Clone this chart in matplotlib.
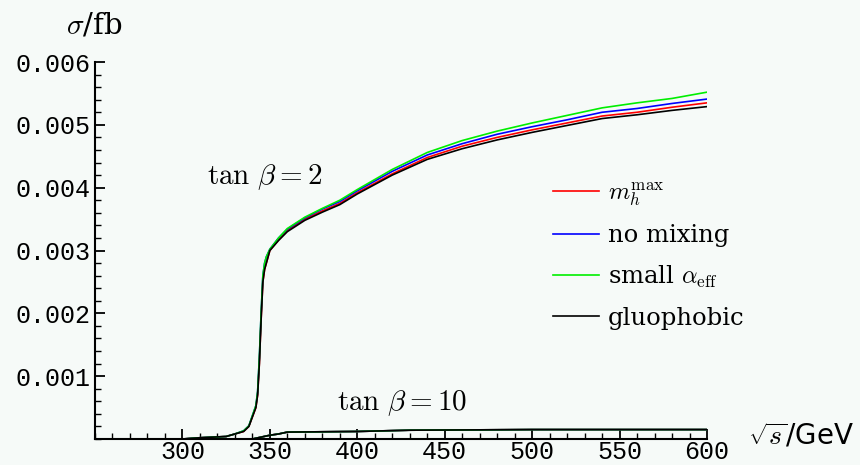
import numpy as np
import matplotlib.pyplot as plt
from matplotlib.ticker import MultipleLocator, FixedLocator

# sqrt(s) grid in GeV
sqrt_s = [250, 300, 310, 325, 330, 335, 338, 340, 342, 343, 344, 345, 346, 347, 348,
          350, 355, 360, 370, 380, 390, 400, 420, 440, 460, 480, 500, 520, 540, 560, 580, 600]

# tan(beta) = 2 cross sections in fb
sig_mhmax = [0, 0, 0.00002, 0.00004, 0.00008, 0.00012, 0.0002, 0.00035, 0.0005, 0.0007,
             0.0012, 0.0019, 0.0025, 0.0027, 0.0028, 0.0030, 0.00317, 0.00332, 0.0035,
             0.00363, 0.00375, 0.00392, 0.00422, 0.00448, 0.00466, 0.0048, 0.00492,
             0.00503, 0.00514, 0.0052, 0.00528, 0.00535]
sig_nomix = [0, 0, 0.00002, 0.00004, 0.00008, 0.00013, 0.00021, 0.00037, 0.00053, 0.00075,
             0.0013, 0.002, 0.0026, 0.0028, 0.0029, 0.00302, 0.0032, 0.00334, 0.00352,
             0.00366, 0.00378, 0.00395, 0.00426, 0.00452, 0.0047, 0.00485, 0.00497,
             0.00508, 0.0052, 0.00526, 0.00534, 0.00541]
sig_small = [0, 0, 0.00002, 0.00004, 0.00008, 0.00013, 0.00021, 0.00037, 0.00053, 0.00075,
             0.0013, 0.002, 0.0026, 0.0028, 0.0029, 0.00302, 0.0032, 0.00335, 0.00353,
             0.00367, 0.0038, 0.00397, 0.00429, 0.00456, 0.00475, 0.0049, 0.00503,
             0.00515, 0.00527, 0.00535, 0.00542, 0.00552]
sig_gluo = [0, 0, 0.00002, 0.00004, 0.00008, 0.00012, 0.0002, 0.00035, 0.0005, 0.0007,
            0.0012, 0.0019, 0.0025, 0.0027, 0.0028, 0.0030, 0.00316, 0.0033, 0.00348,
            0.00361, 0.00373, 0.0039, 0.0042, 0.00445, 0.00462, 0.00476, 0.00488,
            0.00499, 0.0051, 0.00516, 0.00523, 0.00529]

# tan(beta) = 10
sqrt_s10 = [250, 340, 345, 350, 355, 360, 400, 430, 500, 600]
sig_tb10 = [0, 0, 0.00003, 0.00006, 0.00008, 0.00011, 0.00012, 0.00014, 0.00015, 0.00015]

series = [("red", sig_mhmax, r"$m_h^{\rm max}$"),
          ("blue", sig_nomix, "no mixing"),
          ("#00ee00", sig_small, r"small $\alpha_{\rm eff}$"),
          ("black", sig_gluo, "gluophobic")]

plt.rcParams['mathtext.fontset'] = 'cm'
bg = '#f6faf8'
fig = plt.figure(figsize=(8.6, 4.65), dpi=100, facecolor=bg)
ax = fig.add_axes([95/860, 1-439/465, (707-95)/860, (439-62)/465], facecolor=bg)

handles = []
for col, sig, lab in series:
    h, = ax.plot(sqrt_s, sig, color=col, lw=1.2, label=lab)
    handles.append(h)
for col, sig, lab in series:
    ax.plot(sqrt_s10, sig_tb10, color=col, lw=1.2)

ax.set_xlim(250, 600)
ax.set_ylim(0, 0.006)
for s in ['top', 'right']:
    ax.spines[s].set_visible(False)
for s in ['left', 'bottom']:
    ax.spines[s].set_linewidth(1.5)

ax.xaxis.set_major_locator(FixedLocator([300, 350, 400, 450, 500, 550, 600]))
ax.xaxis.set_minor_locator(MultipleLocator(10))
ax.yaxis.set_major_locator(FixedLocator([0.001, 0.002, 0.003, 0.004, 0.005, 0.006]))
ax.yaxis.set_minor_locator(MultipleLocator(0.0002))
ax.set_yticklabels(["0.001", "0.002", "0.003", "0.004", "0.005", "0.006"])
ax.tick_params(which='major', direction='in', length=7, width=1.3)
ax.tick_params(which='minor', direction='in', length=4, width=1.0)
ax.tick_params(axis='x', which='major', pad=1)
ax.tick_params(axis='y', which='major', pad=3)
for lab in ax.get_xticklabels() + ax.get_yticklabels():
    lab.set_family('Liberation Mono')
    lab.set_fontsize(18)

ax.text(94/860, 1-25/465, r"$\sigma$/fb", transform=fig.transFigure, fontsize=21,
        ha='center', va='center', family='DejaVu Serif')
ax.text(748/860, 1-436/465, r"$\sqrt{s}$/GeV", transform=fig.transFigure, fontsize=20,
        ha='left', va='center', family='DejaVu Sans')
ax.text(207/860, 1-177/465, r"$\tan\,\beta = 2$", transform=fig.transFigure,
        fontsize=21, ha='left', va='center')
ax.text(337/860, 1-403/465, r"$\tan\,\beta = 10$", transform=fig.transFigure,
        fontsize=21, ha='left', va='center')

ax.legend(handles=handles, loc='upper left', bbox_to_anchor=(531/860, 1-158/465),
          bbox_transform=fig.transFigure, frameon=False, handlelength=1.9,
          handletextpad=0.35, labelspacing=0.68, prop={'family': 'DejaVu Serif', 'size': 17.5})

fig.savefig('out.png', dpi=100, facecolor=bg)
